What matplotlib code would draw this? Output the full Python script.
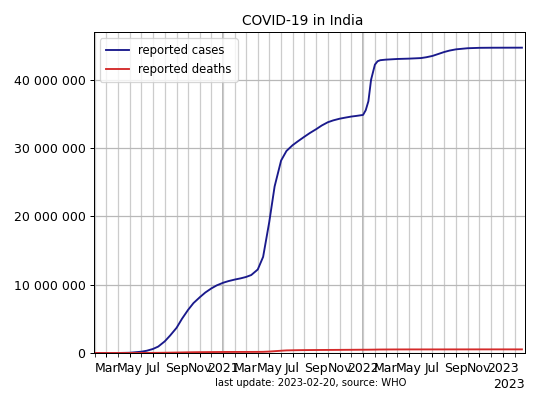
import matplotlib
matplotlib.use("Agg")
import matplotlib.pyplot as plt
import matplotlib.dates as mdates
from matplotlib.ticker import FuncFormatter, MultipleLocator
import pandas as pd

dates = [
    "2020-01-30", "2020-03-01", "2020-04-01", "2020-05-01", "2020-06-01", "2020-06-15",
    "2020-07-01", "2020-07-15", "2020-08-01", "2020-08-15", "2020-09-01", "2020-09-15",
    "2020-10-01", "2020-10-15", "2020-11-01", "2020-11-15", "2020-12-01", "2020-12-15",
    "2021-01-01", "2021-01-15", "2021-02-01", "2021-02-15", "2021-03-01", "2021-03-15",
    "2021-04-01", "2021-04-15", "2021-05-01", "2021-05-15", "2021-06-01", "2021-06-15",
    "2021-07-01", "2021-07-15", "2021-08-01", "2021-08-15", "2021-09-01", "2021-09-15",
    "2021-10-01", "2021-10-15", "2021-11-01", "2021-11-15", "2021-12-01", "2021-12-15",
    "2022-01-01", "2022-01-08", "2022-01-15", "2022-01-22", "2022-02-01", "2022-02-08",
    "2022-02-15", "2022-03-01", "2022-04-01", "2022-05-01", "2022-06-01", "2022-06-15",
    "2022-07-01", "2022-07-15", "2022-08-01", "2022-08-15", "2022-09-01", "2022-10-01",
    "2022-11-01", "2022-12-01", "2023-01-01", "2023-02-20",
]

cases = [
    0, 3, 2000, 35000, 190000, 330000,
    585000, 940000, 1700000, 2550000, 3690000, 5000000,
    6310000, 7300000, 8180000, 8850000, 9460000, 9900000,
    10290000, 10530000, 10760000, 10920000, 11120000, 11410000,
    12220000, 14070000, 19160000, 24370000, 28170000, 29570000,
    30410000, 30990000, 31660000, 32190000, 32770000, 33290000,
    33770000, 34040000, 34290000, 34440000, 34600000, 34700000,
    34840000, 35530000, 36850000, 40000000, 42200000, 42700000,
    42850000, 42930000, 43030000, 43080000, 43160000, 43280000,
    43470000, 43730000, 44050000, 44260000, 44440000, 44600000,
    44660000, 44674000, 44679000, 44684000,
]

deaths = [
    0, 0, 58, 1150, 5400, 9500,
    17400, 24300, 36500, 49900, 65300, 80800,
    98700, 111300, 122100, 129600, 137600, 143400,
    148700, 151900, 154300, 155900, 157200, 158900,
    162900, 173100, 211900, 266200, 331900, 379600,
    399500, 412500, 424400, 431600, 439000, 444200,
    448300, 451800, 458400, 464600, 469200, 476000,
    481100, 483200, 485400, 489400, 496200, 505300,
    510000, 514200, 521100, 523800, 524600, 524900,
    525100, 525900, 526400, 527100, 527900, 528700,
    530400, 530600, 530700, 530770,
]

title = "COVID-19 in India"
footer = "last update: 2023-02-20, source: WHO"
xlim = ("2020-01-30", "2023-02-28")

x = pd.to_datetime(dates)

fig = plt.figure(figsize=(6, 4.5), dpi=90)
ax = fig.add_axes([0.1746, 0.1284, 0.7976, 0.7916])

ax.plot(x, cases, color="#1a1a8c", lw=1.5, label="reported cases")
ax.plot(x, deaths, color="#d42a2a", lw=1.5, label="reported deaths")

ax.set_xlim(pd.to_datetime(xlim[0]), pd.to_datetime(xlim[1]))
ax.set_ylim(0, max(cases) * 1.05)

major = mdates.MonthLocator(bymonth=[1, 3, 5, 7, 9, 11])
ax.xaxis.set_major_locator(major)
ax.xaxis.set_minor_locator(mdates.MonthLocator())
ax.xaxis.set_major_formatter(mdates.ConciseDateFormatter(major))
ax.yaxis.set_major_locator(MultipleLocator(10_000_000))
ax.yaxis.set_major_formatter(FuncFormatter(lambda v, p: f"{int(v):,}".replace(",", " ")))
ax.tick_params(axis="x", which="minor", length=3.5)

ax.grid(True, which="both", axis="x", color="#cccccc", lw=1)
ax.grid(True, which="major", axis="y", color="#b8b8b8", lw=1)
for yr in ["2021-01-01", "2022-01-01"]:
    ax.axvline(pd.to_datetime(yr), color="#a0a0a0", lw=1.2, zorder=0.5)
ax.set_axisbelow(True)

ax.set_title(title, fontsize=11, x=0.484)
ax.legend(loc="upper left", fontsize=9.3, borderpad=0.5)
fig.text(0.576, 0.046, footer, ha="center", fontsize=8)
# offset year label (as shown by the date formatter in the original)
fig.text(0.9722, 0.043, str(x[-1].year), ha="right", fontsize=10)

fig.savefig("out.png", dpi=90)
